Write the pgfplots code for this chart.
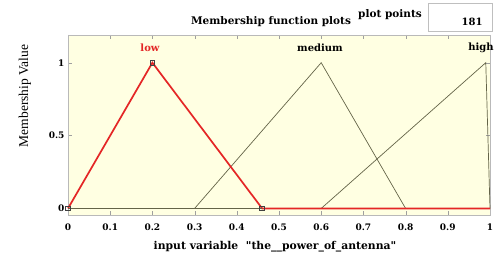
\documentclass[border=0pt]{standalone}
\usepackage{fontspec}
\setmainfont{Liberation Serif}
\newfontfamily\mfont{DejaVu Serif}[Ligatures=TeXOff]
\usepackage{pgfplots}
\pgfplotsset{compat=1.18}
\definecolor{bgy}{RGB}{255,255,226}
\definecolor{olv}{RGB}{100,100,72}
\definecolor{mfred}{RGB}{228,38,38}
\begin{document}
\begin{tikzpicture}
\useasboundingbox (0pt,0pt) rectangle (496pt,255pt);
\begin{axis}[at={(68pt,40pt)}, anchor=south west, scale only axis,
  width=422pt, height=180pt,
  xmin=0, xmax=1, ymin=-0.045, ymax=1.19,
  axis background/.style={fill=bgy},
  axis line style={draw=gray!55},
  tick style={draw=gray!75},
  major tick length=4pt,
  tick align=inside,
  xtick={0,0.1,0.2,0.3,0.4,0.5,0.6,0.7,0.8,0.9,1},
  xticklabels={0,0.1,0.2,0.3,0.4,0.5,0.6,0.7,0.8,0.9,1},
  ytick={0,0.5,1},
  yticklabels={0,0.5,1},
  ticklabel style={font=\mfont\bfseries\fontsize{9}{11}\selectfont},
  xticklabel style={yshift=-5pt},
  /pgf/number format/assume math mode=true,
  clip=false,
]
% medium and high
\addplot[olv, line width=0.7pt] coordinates {(0,0) (0.3,0) (0.6,1) (0.8,0) (1,0)};
\addplot[olv, line width=0.7pt] coordinates {(0,0) (0.6,0) (0.99,1) (1,0)};
% low (selected)
\addplot[mfred, line width=1.7pt] coordinates {(0,0) (0.2,1) (0.46,0) (1,0)};
\addplot[olv, line width=1.3pt] coordinates {(0,0) (0.46,0)};
\addplot[only marks, mark=square, mark size=2.3pt, mark options={draw=black!75, line width=0.8pt}] coordinates {(0,0) (0.2,1) (0.46,0)};
\end{axis}
% labels of MFs
\node[text=mfred, font=\mfont\bfseries\fontsize{10}{11}\selectfont] at (150pt,207pt) {low};
\node[font=\mfont\bfseries\fontsize{10}{11}\selectfont] at (320pt,207pt) {medium};
\node[font=\mfont\bfseries\fontsize{10}{11}\selectfont] at (481pt,207pt) {high};
% title and plot points box
\node[font=\mfont\bfseries\fontsize{10.5}{12}\selectfont] at (271pt,233pt) {Membership function plots};
\node[font=\mfont\bfseries\fontsize{10.5}{12}\selectfont] at (390pt,240pt) {plot points};
\draw[gray!50, fill=white] (428pt,224pt) rectangle (492pt,252pt);
\node[anchor=east, font=\mfont\bfseries\fontsize{10}{11}\selectfont] at (486pt,233pt) {181};
% axis labels
\node[rotate=90, font=\fontsize{13.5}{15}\selectfont] at (25pt,159pt) {Membership Value};
\node[font=\mfont\bfseries\fontsize{10.8}{12}\selectfont] at (275pt,8pt) {input variable\ \ "the\_\_power\_of\_antenna"};
\end{tikzpicture}
\end{document}
